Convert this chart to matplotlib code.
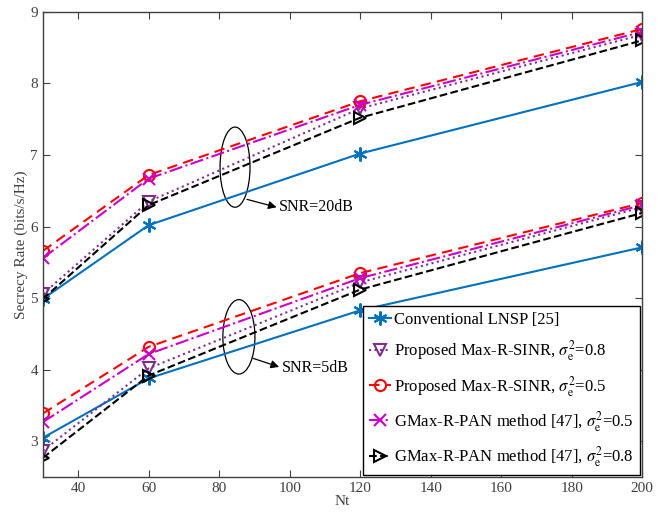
import numpy as np
import matplotlib.pyplot as plt
from matplotlib.patches import Ellipse

plt.rcParams['font.family'] = ['Liberation Serif', 'DejaVu Serif']
plt.rcParams['mathtext.fontset'] = 'stix'

nt = [30, 60, 120, 200]

# SNR = 20 dB
lnsp_20 = [4.99, 6.02, 7.02, 8.02]
prop08_20 = [5.06, 6.35, 7.65, 8.68]
prop05_20 = [5.66, 6.72, 7.75, 8.76]
gmax05_20 = [5.56, 6.67, 7.70, 8.72]
gmax08_20 = [4.99, 6.30, 7.52, 8.60]

# SNR = 5 dB
lnsp_5 = [3.05, 3.88, 4.83, 5.71]
prop08_5 = [2.87, 4.02, 5.22, 6.27]
prop05_5 = [3.39, 4.32, 5.35, 6.33]
gmax05_5 = [3.27, 4.22, 5.28, 6.30]
gmax08_5 = [2.77, 3.92, 5.12, 6.19]

xticks = [40, 60, 80, 100, 120, 140, 160, 180, 200]
yticks = [3, 4, 5, 6, 7, 8, 9]

fig = plt.figure(figsize=(6.6, 5.12), dpi=100)
ax = fig.add_axes([0.065, 0.068, 0.908, 0.909])

asterisk = (6, 2, 0)
styles = [
    (lnsp_20, lnsp_5, dict(color='#0072BD', ls='-', marker=asterisk, ms=10, mfc='none'),
     'Conventional LNSP [25]'),
    (prop08_20, prop08_5, dict(color='#7E2F8E', ls=':', marker='v', ms=8, mfc='none'),
     r'Proposed Max-R-SINR, $\sigma_{\rm e}^2$=0.8'),
    (prop05_20, prop05_5, dict(color='red', ls=(0, (5, 3)), marker='o', ms=8, mfc='none'),
     r'Proposed Max-R-SINR, $\sigma_{\rm e}^2$=0.5'),
    (gmax05_20, gmax05_5, dict(color='#CC00CC', ls='-.', marker='x', ms=8, mfc='none'),
     r'GMax-R-PAN method [47], $\sigma_{\rm e}^2$=0.5'),
    (gmax08_20, gmax08_5, dict(color='black', ls='--', marker='>', ms=8, mfc='none'),
     r'GMax-R-PAN method [47], $\sigma_{\rm e}^2$=0.8'),
]

for y20, y5, st, lab in styles:
    ax.plot(nt, y20, lw=1.5, mew=1.5, label=lab, **st)
    ax.plot(nt, y5, lw=1.5, mew=1.5, **st)

# ellipses grouping the curves
ax.add_patch(Ellipse((84.5, 6.83), 8.5, 1.12, fill=False, lw=0.9, color='black'))
ax.add_patch(Ellipse((85.6, 4.46), 9.1, 1.04, fill=False, lw=0.9, color='black'))
arrow = dict(arrowstyle='-|>', color='black', lw=0.9, shrinkA=0, shrinkB=0,
             mutation_scale=12)
ax.annotate('', xy=(96.3, 6.27), xytext=(87.9, 6.38), arrowprops=arrow)
ax.text(97.0, 6.27, 'SNR=20dB', fontsize=11.5, va='center', ha='left')
ax.annotate('', xy=(97.0, 4.04), xytext=(89.6, 4.16), arrowprops=arrow)
ax.text(97.8, 4.02, 'SNR=5dB', fontsize=11.5, va='center', ha='left')

ax.set_xlim(30, 200)
ax.set_ylim(2.5, 9)
ax.set_xticks(xticks)
ax.set_yticks(yticks)
ax.tick_params(direction='in', top=True, right=True, labelsize=11, colors='#404040',
               labelcolor='#404040', length=5)
for sp in ax.spines.values():
    sp.set_color('#404040')
    sp.set_linewidth(1.0)
ax.set_xlabel('Nt', fontsize=11, color='#404040', labelpad=0)
ax.set_ylabel('Secrecy Rate (bits/s/Hz)', fontsize=11, color='#404040', labelpad=2)

leg = ax.legend(loc='lower right', fontsize=12, handlelength=1.3, handletextpad=0.2,
                borderpad=0.35, labelspacing=0.62, fancybox=False, framealpha=1,
                borderaxespad=0.15)
leg.get_frame().set_edgecolor('black')
leg.get_frame().set_linewidth(1.0)

fig.savefig('out.png', dpi=100)
